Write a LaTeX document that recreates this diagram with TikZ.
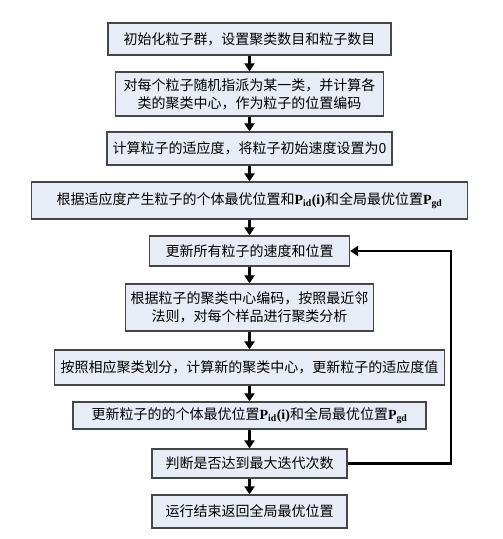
\documentclass[tikz,border=0pt]{standalone}
\usepackage{fontspec}
\setmainfont{Noto Sans CJK SC}
\newfontfamily\pfont{Liberation Serif}
\usetikzlibrary{arrows.meta}
\definecolor{boxfill}{RGB}{232,236,246}
\definecolor{boxline}{RGB}{70,70,70}
\tikzstyle{process}=[rectangle,draw=boxline,line width=1.3pt,fill=boxfill,align=center,inner sep=0pt,font=\fontsize{14pt}{18pt}\selectfont]
\tikzstyle{arrow}=[draw,line width=2.4pt,-{Triangle[length=8pt,width=10pt]}]
\newcommand{\Pid}{{\pfont\bfseries P\textsubscript{id}(i)}}
\newcommand{\Pgd}{{\pfont\bfseries P\textsubscript{gd}}}
\begin{document}
\begin{tikzpicture}[node distance=48pt]
		\useasboundingbox (0,0) rectangle (503pt,-539pt);
		\node (init) [process, minimum width=283pt, minimum height=32pt] at (249.5pt,-39pt) {初始化粒子群，设置聚类数目和粒子数目};
		\node (code) [process, minimum width=268pt, minimum height=44pt, below of=init, yshift=-7pt] {对每个粒子随机指派为某一类，并计算各\\类的聚类中心，作为粒子的位置编码};
		\node (fit) [process, minimum width=285pt, minimum height=33pt, below of=code, yshift=-6.5pt] {计算粒子的适应度，将粒子初始速度设置为0};
		\node (best) [process, minimum width=436pt, minimum height=37pt, below of=fit, yshift=-4pt] {根据适应度产生粒子的个体最优位置和\Pid 和全局最优位置\Pgd};
		\node (update) [process, minimum width=200pt, minimum height=30pt, below of=best, yshift=-2.5pt] {更新所有粒子的速度和位置};
		\node (cluster) [process, minimum width=248pt, minimum height=47pt, below of=update, yshift=-8.5pt] {根据粒子的聚类中心编码，按照最近邻\\法则，对每个样品进行聚类分析};
		\node (center) [process, minimum width=390pt, minimum height=35pt, below of=cluster, yshift=-12pt] {按照相应聚类划分，计算新的聚类中心，更新粒子的适应度值};
		\node (renew) [process, minimum width=353pt, minimum height=27pt, below of=center] {更新粒子的的个体最优位置\Pid 和全局最优位置\Pgd};
		\node (judge) [process, minimum width=195pt, minimum height=29pt, below of=renew] {判断是否达到最大迭代次数};
		\node (output) [process, minimum width=195pt, minimum height=33pt, below of=judge] {运行结束返回全局最优位置};
		\coordinate (back) at (451pt,-463.5pt);
		
		\draw[arrow] (init) -- (code);
		\draw[arrow] (code) -- (fit);
		\draw[arrow] (fit) -- (best);
		\draw[arrow] (best) -- (update);
		\draw[arrow] (update) -- (cluster);
		\draw[arrow] (cluster) -- (center);
		\draw[arrow] (center) -- (renew);
		\draw[arrow] (renew) -- (judge);
		\draw[arrow] (judge) -- (output);
		\draw[arrow] (judge.east) -- (back) |- (update.east);
		
\end{tikzpicture}
\end{document}
